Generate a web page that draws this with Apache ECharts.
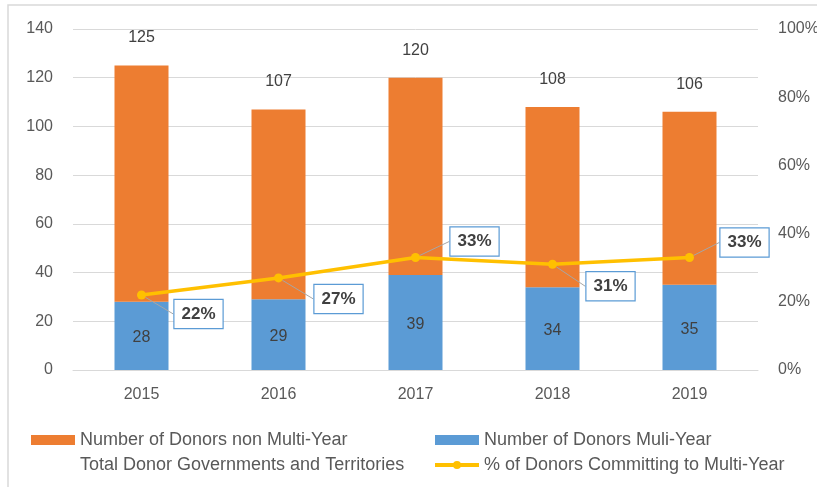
<!DOCTYPE html>
<html>
<head>
<meta charset="utf-8">
<script src="https://cdn.jsdelivr.net/npm/echarts@6/dist/echarts.min.js"></script>
<style>
html,body{margin:0;padding:0;background:#fff;}
#chart{width:817px;height:487px;}
</style>
</head>
<body>
<div id="chart"></div>
<script>
var categories = ['2015', '2016', '2017', '2018', '2019'];
var multiYear = [28, 29, 39, 34, 35];
var nonMultiYear = [97, 78, 81, 74, 71];
var totalDonors = [125, 107, 120, 108, 106];
var pctMultiYear = [22, 27, 33, 31, 33];
var leftTicks = [0, 140, 20];
var rightTicks = [0, 100, 20];

var FONT = "'Liberation Sans', 'Noto Sans', sans-serif";
var TXT = '#595959';

var labelOffsets = [[57, 19], [60, 21], [59, -16], [58, 22], [55, -15]];

var chart = echarts.init(document.getElementById('chart'));
var legendBase = {
  orient: 'horizontal', itemWidth: 44, itemHeight: 10, itemGap: 5,
  textStyle: { color: TXT, fontSize: 18, fontFamily: FONT }, selectedMode: false
};
chart.setOption({
  animation: false,
  textStyle: { fontFamily: FONT },
  graphic: [{
    type: 'rect', shape: { x: 8, y: 5, width: 900, height: 600 },
    style: { fill: 'none', stroke: '#d9d9d9', lineWidth: 1.5 }, silent: true
  }],
  grid: { left: 73, right: 59, top: 29, bottom: 117, outerBoundsMode: 'none', containLabel: false },
  legend: [
    Object.assign({}, legendBase, { left: 26, top: 426, data: [{ name: 'Number of Donors non Multi-Year', icon: 'rect' }] }),
    Object.assign({}, legendBase, { left: 430, top: 426, data: [{ name: 'Number of Donors Muli-Year', icon: 'rect' }] }),
    Object.assign({}, legendBase, { left: 26, top: 451, data: [{ name: 'Total Donor Governments and Territories', icon: 'rect', itemStyle: { opacity: 0 } }] }),
    Object.assign({}, legendBase, { left: 428, top: 451, data: [{ name: '% of Donors Committing to Multi-Year', lineStyle: { width: 4, color: '#FFC000' } }] })
  ],
  xAxis: {
    type: 'category', data: categories,
    axisLine: { lineStyle: { color: '#d9d9d9', width: 1 } },
    axisTick: { show: false },
    axisLabel: { color: TXT, fontSize: 16, margin: 17, fontFamily: FONT }
  },
  yAxis: [{
    type: 'value', min: leftTicks[0], max: leftTicks[1], interval: leftTicks[2],
    axisLine: { show: false }, axisTick: { show: false },
    axisLabel: { color: TXT, fontSize: 16, margin: 20, fontFamily: FONT },
    splitLine: { lineStyle: { color: '#d9d9d9', width: 1 } }
  }, {
    type: 'value', min: rightTicks[0], max: rightTicks[1], interval: rightTicks[2],
    axisLine: { show: false }, axisTick: { show: false },
    axisLabel: { color: TXT, fontSize: 16, margin: 20, formatter: '{value}%', fontFamily: FONT },
    splitLine: { show: false }
  }],
  series: [{
    name: 'Number of Donors Muli-Year', type: 'bar', stack: 'donors', data: multiYear,
    barWidth: 54, itemStyle: { color: '#5B9BD5' },
    label: { show: true, position: 'inside', offset: [0, 2], color: '#404040', fontSize: 16, fontFamily: FONT }
  }, {
    name: 'Number of Donors non Multi-Year', type: 'bar', stack: 'donors', data: nonMultiYear,
    barWidth: 54, itemStyle: { color: '#ED7D31' }
  }, {
    name: 'Total Donor Governments and Territories', type: 'line', data: totalDonors,
    symbol: 'circle', symbolSize: 1, showSymbol: true,
    lineStyle: { color: 'rgba(0,0,0,0)', width: 0 }, itemStyle: { color: 'rgba(0,0,0,0)' },
    label: { show: true, position: 'top', distance: 19, color: '#404040', fontSize: 16, fontFamily: FONT },
    z: 5
  }, {
    name: '% of Donors Committing to Multi-Year', type: 'line', yAxisIndex: 1, data: pctMultiYear,
    symbol: 'circle', symbolSize: 9,
    itemStyle: { color: '#FFC000' }, lineStyle: { color: '#FFC000', width: 3.5 },
    label: {
      show: true, position: 'inside', formatter: '{c}%', color: '#404040', fontWeight: 'bold',
      fontSize: 17, fontFamily: FONT, backgroundColor: '#fff', borderColor: '#5B9BD5', borderWidth: 1.2,
      padding: [6, 7, 5, 7]
    },
    labelLine: { show: true, lineStyle: { color: '#a6a6a6', width: 1 } },
    labelLayout: function (p) {
      var o = labelOffsets[p.dataIndex];
      return { dx: o[0], dy: o[1] };
    },
    z: 10
  }]
});
</script>
</body>
</html>
